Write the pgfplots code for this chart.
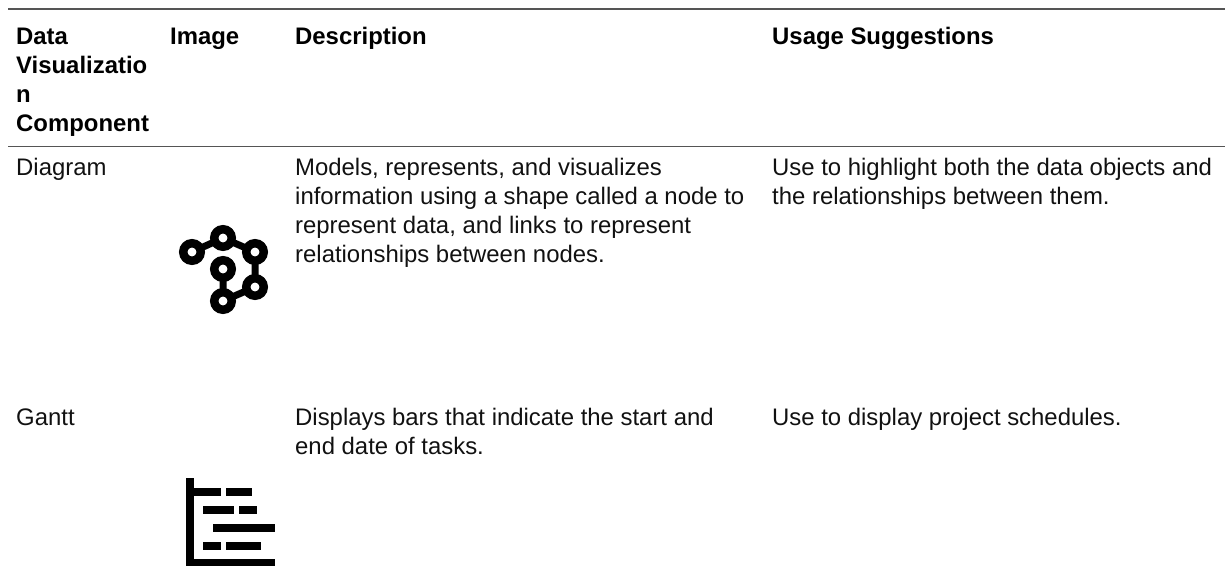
\documentclass[border=0pt]{standalone}
\usepackage{fontspec}
\setmainfont{Liberation Sans}
\usepackage{pgfplots}
\pgfplotsset{compat=1.18}
\definecolor{rule}{HTML}{555555}
\definecolor{txt}{HTML}{111111}
\newcommand{\T}[3]{\node[anchor=base west,inner sep=0pt,text=txt,font=\fontsize{23.9pt}{28pt}\selectfont] at (axis cs:#1,#2) {#3};}
\newcommand{\B}[3]{\node[anchor=base west,inner sep=0pt,text=black,font=\fontsize{23.9pt}{28pt}\selectfont\bfseries] at (axis cs:#1,#2) {#3};}
\begin{document}
\begin{tikzpicture}
\begin{axis}[
  at={(0,0)}, anchor=south west,
  width=1225pt, height=565pt, scale only axis,
  xmin=0, xmax=1225, ymin=0, ymax=565, y dir=reverse,
  hide axis, clip=true, unbounded coords=jump]
\path (axis cs:0,0) rectangle (axis cs:1225,565);
% table rules
\addplot[rule, line width=2pt] coordinates {(8,8.5) (1225,8.5)};
\addplot[rule, line width=1.6pt] coordinates {(8,146.5) (1225,146.5)};
% diagram icon
\addplot[black, line width=7pt, mark=*, mark size=8.75pt,
  mark options={fill=white, draw=black, line width=8.5pt}]
  coordinates {(192,252) (223,238) (255,252) (255,287) (223,301) (223,269)};
% gantt icon
\addplot[black, line width=8pt] coordinates {(190,478) (190,565)};
\addplot[black, line width=8pt] coordinates {(186,563) (275,563)};
\addplot[black, line width=8pt] coordinates {(194,492) (221,492) (nan,nan) (226,492) (252,492)
  (nan,nan) (203,510) (234,510) (nan,nan) (239,510) (257,510)
  (nan,nan) (213,527.5) (275,527.5)
  (nan,nan) (203,546) (221,546) (nan,nan) (226,546) (261,546)};
% header
\B{16}{44}{Data}
\B{16}{73}{Visualizatio}
\B{16}{102}{n}
\B{16}{131}{Component}
\B{170}{44}{Image}
\B{295}{44}{Description}
\B{772}{44}{Usage Suggestions}
% row 1
\T{16}{175}{Diagram}
\T{295}{175}{Models, represents, and visualizes}
\T{295}{204}{information using a shape called a node to}
\T{295}{233}{represent data, and links to represent}
\T{295}{262}{relationships between nodes.}
\T{772}{175}{Use to highlight both the data objects and}
\T{772}{204}{the relationships between them.}
% row 2
\T{16}{425}{Gantt}
\T{295}{425}{Displays bars that indicate the start and}
\T{295}{454}{end date of tasks.}
\T{772}{425}{Use to display project schedules.}
\end{axis}
\end{tikzpicture}
\end{document}
